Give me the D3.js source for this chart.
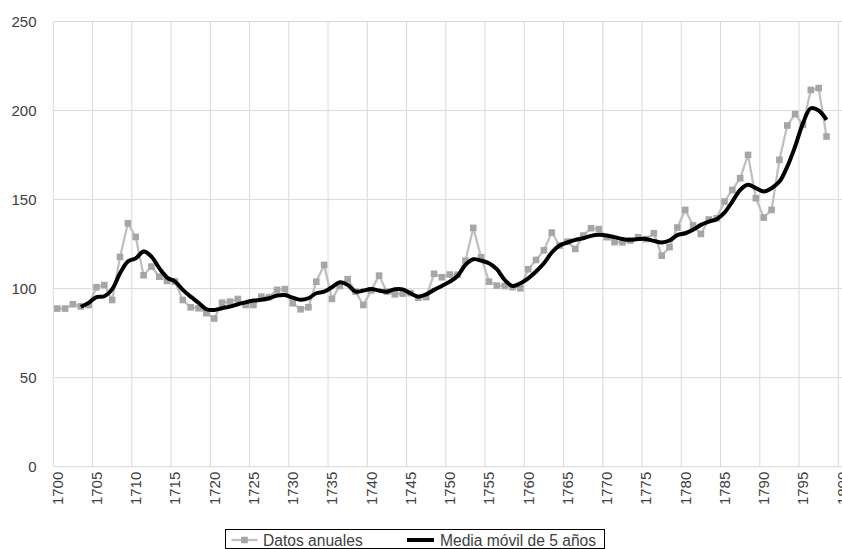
<!DOCTYPE html>
<html>
<head>
<meta charset="utf-8">
<script src="https://cdn.jsdelivr.net/npm/d3@7/dist/d3.min.js"></script>
<style>
  html, body { margin: 0; padding: 0; background: #fff; }
  svg { display: block; }
  text { font-family: "Liberation Sans", Arial, sans-serif; }
</style>
</head>
<body>
<svg id="chart" width="842" height="549"></svg>
<script>
// ---- Data ----
const categoryYears = d3.range(1700, 1801); // axis categories 1700..1800
const annualYears = d3.range(1700, 1799);   // 1700..1798
const annualValues = [
  88.8, 88.8, 91.2, 90.0, 90.8, 100.8, 102.0, 93.6, 117.8, 136.7,
  129.0, 107.5, 112.4, 106.7, 104.3, 104.0, 93.6, 89.5, 89.0, 86.2,
  83.2, 92.1, 92.7, 94.2, 90.8, 90.8, 95.5, 95.2, 99.3, 99.7,
  91.8, 88.4, 89.5, 103.9, 113.3, 94.2, 101.5, 105.3, 98.3, 90.8,
  99.0, 107.3, 98.3, 96.8, 97.2, 97.5, 94.9, 95.2, 108.3, 106.4,
  107.9, 107.8, 115.7, 134.1, 117.6, 103.9, 101.7, 101.5, 100.8, 100.2,
  110.9, 116.1, 121.5, 131.5, 124.2, 126.4, 122.3, 129.8, 133.9, 133.4,
  128.9, 126.1, 126.0, 127.0, 128.9, 127.8, 131.1, 118.5, 123.3, 134.3,
  144.2, 135.5, 130.7, 138.8, 139.5, 148.9, 155.4, 162.0, 175.1, 150.8,
  139.9, 144.2, 172.3, 191.6, 198.0, 192.0, 211.6, 212.6, 185.4
];
const maYears = d3.range(1703, 1799);       // 1703..1798
const maValues = [
  89.8, 92.0, 95.2, 95.7, 99.7, 108.6, 115.2, 117.0, 120.8, 118.0,
  111.5, 106.2, 104.0, 99.3, 95.5, 92.1, 88.4, 88.0, 89.0, 89.9,
  91.2, 92.3, 93.3, 93.7, 94.6, 96.1, 96.4, 94.9, 93.7, 94.6,
  97.4, 98.3, 100.8, 103.6, 102.1, 98.3, 98.9, 99.8, 98.9, 98.3,
  99.6, 99.6, 97.4, 95.5, 96.8, 99.3, 101.5, 103.9, 107.1, 113.3,
  116.5, 115.7, 114.2, 110.9, 104.9, 101.5, 103.0, 105.8, 109.6, 114.2,
  120.3, 124.2, 125.9, 127.4, 128.3, 129.6, 130.2, 129.8, 128.9, 127.9,
  127.4, 127.8, 127.9, 126.8, 125.9, 127.0, 130.0, 131.1, 133.0, 135.8,
  137.6, 139.0, 142.7, 148.9, 155.4, 158.3, 156.4, 154.5, 156.4, 160.1,
  168.5, 179.8, 192.9, 201.3, 200.0, 194.8
];
const yTicks = [0, 50, 100, 150, 200, 250];
const xLabelYears = categoryYears.filter(y => y % 5 === 0);
const seriesNames = ["Datos anuales", "Media móvil de 5 años"];

// ---- Layout ----
const svg = d3.select("#chart");
const plotLeft = 53.3, plotTop = 21.5, plotBottom = 466.7;
const step = 7.85;
const x = d3.scaleBand().domain(categoryYears).range([plotLeft, plotLeft + categoryYears.length * step]).padding(0);
const y = d3.scaleLinear().domain([0, 250]).range([plotBottom, plotTop]);
const cx = yr => x(yr) + x.bandwidth() / 2;

const gridColor = "#d9d9d9";
const textColor = "#404040";

// horizontal gridlines
svg.append("g").selectAll("line").data(yTicks).join("line")
  .attr("x1", plotLeft).attr("x2", 842)
  .attr("y1", d => y(d)).attr("y2", d => y(d))
  .attr("stroke", gridColor).attr("stroke-width", 1);

// vertical gridlines at category boundaries every 5
svg.append("g").selectAll("line").data(xLabelYears).join("line")
  .attr("x1", d => x(d)).attr("x2", d => x(d))
  .attr("y1", plotTop).attr("y2", plotBottom)
  .attr("stroke", gridColor).attr("stroke-width", 1);

// y axis labels
svg.append("g").selectAll("text").data(yTicks).join("text")
  .attr("x", 36.5).attr("y", d => y(d))
  .attr("text-anchor", "end").attr("dominant-baseline", "central")
  .attr("font-size", 15).attr("fill", textColor)
  .text(d => d);

// x axis labels rotated
svg.append("g").selectAll("text").data(xLabelYears).join("text")
  .attr("transform", d => `translate(${cx(d)},${plotBottom + 5}) rotate(-90)`)
  .attr("text-anchor", "end").attr("dominant-baseline", "central")
  .attr("font-size", 15).attr("fill", textColor)
  .text(d => d);

// annual series
const annual = annualYears.map((yr, i) => ({yr, v: annualValues[i]}));
svg.append("path").datum(annual)
  .attr("fill", "none").attr("stroke", "#bfbfbf").attr("stroke-width", 2.25)
  .attr("stroke-linejoin", "round")
  .attr("d", d3.line().x(d => cx(d.yr)).y(d => y(d.v)));
svg.append("g").selectAll("rect").data(annual).join("rect")
  .attr("x", d => cx(d.yr) - 3.3).attr("y", d => y(d.v) - 3.3)
  .attr("width", 6.6).attr("height", 6.6).attr("fill", "#a6a6a6");

// moving average
const ma = maYears.map((yr, i) => ({yr, v: maValues[i]}));
svg.append("path").datum(ma)
  .attr("fill", "none").attr("stroke", "#000").attr("stroke-width", 4)
  .attr("stroke-linejoin", "round").attr("stroke-linecap", "butt")
  .attr("d", d3.line().curve(d3.curveCatmullRom.alpha(0.5)).x(d => cx(d.yr)).y(d => y(d.v)));

// legend
const lg = svg.append("g");
lg.append("rect").attr("x", 225.5).attr("y", 529.5).attr("width", 379).attr("height", 19)
  .attr("fill", "#fff").attr("stroke", "#000").attr("stroke-width", 1);
const ly = 540;
lg.append("line").attr("x1", 231.5).attr("x2", 257.5).attr("y1", ly).attr("y2", ly)
  .attr("stroke", "#bfbfbf").attr("stroke-width", 2.25);
lg.append("rect").attr("x", 244.5 - 3.3).attr("y", ly - 3.3).attr("width", 6.6).attr("height", 6.6).attr("fill", "#a6a6a6");
lg.append("text").attr("x", 263).attr("y", ly).attr("dominant-baseline", "central")
  .attr("font-size", 15.6).attr("fill", textColor).text(seriesNames[0]);
lg.append("line").attr("x1", 407).attr("x2", 434).attr("y1", ly).attr("y2", ly)
  .attr("stroke", "#000").attr("stroke-width", 4);
lg.append("text").attr("x", 440).attr("y", ly).attr("dominant-baseline", "central")
  .attr("font-size", 15.6).attr("fill", textColor).text(seriesNames[1]);
</script>
</body>
</html>
